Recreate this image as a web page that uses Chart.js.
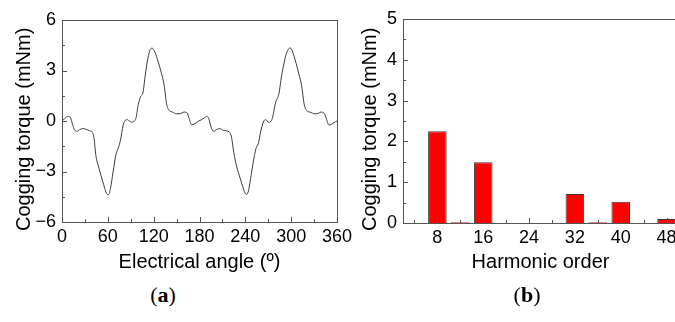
<!DOCTYPE html>
<html>
<head>
<meta charset="utf-8">
<script src="https://cdn.jsdelivr.net/npm/chart.js@4.4.1/dist/chart.umd.min.js"></script>
<style>
  body { margin: 0; width: 675px; height: 322px; overflow: hidden; position: relative; background: #fff; }
  .panel { position: absolute; top: 0; width: 360px; height: 280px; }
  .caption { position: absolute; top: 282px; width: 60px; text-align: center; font: 22px "Liberation Serif", "DejaVu Serif", serif; color: #000; }
</style>
</head>
<body>
<div class="panel" style="left:0px"><canvas id="graficoPar"></canvas></div>
<div class="panel" style="left:340px"><canvas id="graficoArmonicos"></canvas></div>
<div class="caption" style="left:133px">(<b>a</b>)</div>
<div class="caption" style="left:497px">(<b>b</b>)</div>
<script>
// (a) par de cogging frente al angulo electrico
const angulo = [0, 3.5, 8, 11, 13.6, 16.6, 19.7, 23.2, 27.6, 31.9, 36.3, 39.4, 42, 44.2, 48.5, 52.9, 56, 59, 61, 63.4, 66.9, 70.4, 73.4, 76.5, 80, 82.2, 85.2, 88.7, 91, 96.6, 99.6, 102.7, 106.2, 108.4, 111.5, 115, 118, 121.6, 126, 130.3, 133.8, 136.9, 140.4, 144.8, 150, 154.4, 159.6, 164, 166.5, 169.6, 174, 178.3,
  182.7, 187, 189.2, 192.2, 195.7, 198.8, 202.3, 206.6, 211, 218.9, 221.9, 224.1, 227.7, 232, 236, 239.5, 241.6, 244.3, 246.9, 250.4, 253.9, 257, 260, 263.6, 266.6, 270.5, 275.2, 279.6, 284, 286.5, 289.6, 294, 298.8, 302, 306, 310, 313.7, 317, 320, 324.6, 331, 335, 339, 343.5, 346, 349.5, 354, 358, 360];
const par = [0, 0.14, 0.28, 0.2, -0.16, -0.55, -0.61, -0.51, -0.45, -0.5, -0.58, -0.65, -1.05, -2.0, -2.83, -3.52, -4.01, -4.35, -4.37, -4.01, -3.02, -2.04, -1.64, -1.15, -0.26, 0, 0.08, -0.02, -0.06, 0.14, 0.93, 1.42, 1.72, 2.51, 3.5, 4.19, 4.33, 4.09, 3.5, 2.81, 2.11, 1.03, 0.63, 0.53, 0.43, 0.43, 0.53, 0.47, 0.14, -0.22, -0.16, -0.02,
  0.08, 0.2, 0.28, 0.14, -0.45, -0.61, -0.51, -0.45, -0.55, -0.65, -0.95, -1.64, -2.53, -3.22, -3.81, -4.27, -4.37, -4.11, -3.42, -2.43, -1.64, -1.34, -0.65, -0.06, 0.08, -0.08, 0.14, 1.1, 1.62, 2.4, 3.2, 4.05, 4.34, 4.1, 3.5, 2.8, 2.1, 1.0, 0.63, 0.53, 0.43, 0.45, 0.53, 0.45, 0.14, -0.24, -0.16, -0.04, 0];
const ticksAngulo = [0, 60, 120, 180, 240, 300, 360];
const ticksPar = [-6, -3, 0, 3, 6];

// (b) espectro armonico
const ordenArmonico = [4, 8, 12, 16, 20, 24, 28, 32, 36, 40, 44, 48];
const amplitud = [0, 2.25, 0.02, 1.49, 0, 0, 0, 0.71, 0.02, 0.52, 0, 0.1];
const ticksOrden = [8, 16, 24, 32, 40, 48];
const ticksAmplitud = [0, 1, 2, 3, 4, 5];

const fuente = "'Liberation Sans', Arial, sans-serif";

// marcas mayores y menores hacia dentro
function marcas(scale) {
  const v = scale.ticks.map(t => t.value);
  const paso = v[1] - v[0];
  let lista = v.map(x => [x, 5]);
  for (let m = v[0] - paso / 2; m < scale.max; m += paso) {
    if (m > scale.min) lista.push([m, 3]);
  }
  return lista;
}

const ejesPlugin = {
  id: 'ejes',
  afterDatasetsDraw(chart) {
    const { ctx, chartArea: a } = chart;
    const sx = chart.scales.x, sy = chart.scales.y;
    ctx.save();
    ctx.strokeStyle = '#555';
    ctx.lineWidth = 1;
    ctx.beginPath();
    marcas(sx).forEach(([v, largo]) => {
      const px = Math.round(sx.getPixelForValue(v)) + 0.5;
      ctx.moveTo(px, a.bottom);
      ctx.lineTo(px, a.bottom - largo);
    });
    marcas(sy).forEach(([v, largo]) => {
      const py = Math.round(sy.getPixelForValue(v)) + 0.5;
      ctx.moveTo(a.left, py);
      ctx.lineTo(a.left + largo, py);
    });
    ctx.stroke();
    ctx.strokeRect(Math.round(a.left) + 0.5, Math.round(a.top) + 0.5, Math.round(a.right - a.left), Math.round(a.bottom - a.top));
    ctx.restore();
  }
};

function menos(v) {
  return v < 0 ? '\u2212' + Math.abs(v) : String(v);
}

function opcionesEjes(cfg) {
  return {
    responsive: true,
    maintainAspectRatio: false,
    animation: false,
    layout: { padding: { left: 0, right: cfg.derecha, top: cfg.arriba, bottom: 0 } },
    plugins: { legend: { display: false }, tooltip: { enabled: false } },
    scales: {
      x: {
        type: 'linear',
        offset: false,
        min: cfg.xMin,
        max: cfg.xMax,
        afterBuildTicks: s => { s.ticks = cfg.xTicks.map(v => ({ value: v })); },
        afterFit: s => { s.height = 280 - cfg.abajo; },
        grid: { display: false, drawTicks: false },
        border: { display: false },
        ticks: { padding: 4, color: '#000', font: { family: fuente, size: 18 }, maxRotation: 0, callback: menos },
        title: { display: true, text: cfg.xTitulo, color: '#000', font: { family: fuente, size: 20 }, padding: { top: 0, bottom: 6 } }
      },
      y: {
        min: cfg.yMin,
        max: cfg.yMax,
        afterBuildTicks: s => { s.ticks = cfg.yTicks.map(v => ({ value: v })); },
        afterFit: s => { s.width = cfg.izquierda; },
        grid: { display: false, drawTicks: false },
        border: { display: false },
        ticks: { padding: 6, color: '#000', font: { family: fuente, size: 18 }, callback: menos },
        // espacios al final para bajar un poco el titulo, como en el original
        title: { display: true, text: 'Cogging torque (mNm)   ', color: '#000', font: { family: fuente, size: 20 }, padding: { top: cfg.tituloY, bottom: 0 } }
      }
    }
  };
}

document.addEventListener("DOMContentLoaded", function() {
  new Chart(document.getElementById("graficoPar"), {
    type: "line",
    data: {
      datasets: [{
        data: angulo.map((a, i) => ({ x: a, y: par[i] })),
        borderColor: "#3a3a3a",
        borderWidth: 1,
        pointRadius: 0,
        fill: false,
        cubicInterpolationMode: "monotone"
      }]
    },
    options: opcionesEjes({
      izquierda: 62, derecha: 23, arriba: 20, abajo: 222, tituloY: 12,
      xMin: 0, xMax: 360, xTicks: ticksAngulo, xTitulo: "Electrical angle (\u00ba)",
      yMin: -6, yMax: 6, yTicks: ticksPar
    }),
    plugins: [ejesPlugin]
  });

  new Chart(document.getElementById("graficoArmonicos"), {
    type: "bar",
    data: {
      datasets: [{
        data: ordenArmonico.map((o, i) => ({ x: o, y: amplitud[i] })),
        backgroundColor: "#ff0000",
        borderColor: "#3a3a3a",
        borderWidth: 1,
        categoryPercentage: 0.9,
        barPercentage: 0.9
      }]
    },
    options: opcionesEjes({
      izquierda: 63, derecha: 22, arriba: 19, abajo: 223, tituloY: 18,
      xMin: 2, xMax: 50, xTicks: ticksOrden, xTitulo: "Harmonic order",
      yMin: 0, yMax: 5, yTicks: ticksAmplitud
    }),
    plugins: [ejesPlugin]
  });
});
</script>
</body>
</html>
